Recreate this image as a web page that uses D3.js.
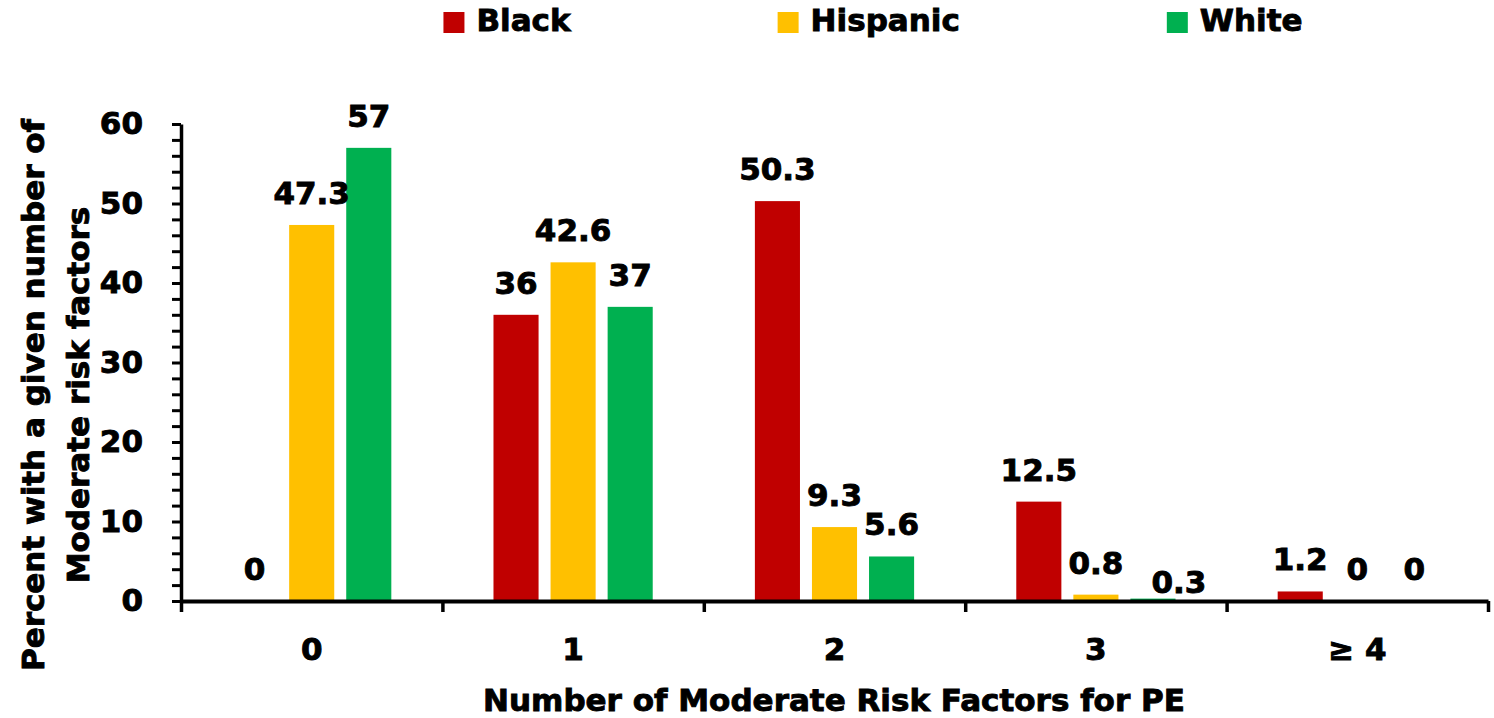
<!DOCTYPE html>
<html>
<head>
<meta charset="utf-8">
<script src="https://cdn.jsdelivr.net/npm/d3@7"></script>
<style>
  body { margin: 0; background: #fff; }
  svg { display: block; font-family: "DejaVu Sans", sans-serif; font-weight: bold; }
  svg text { stroke: #000; stroke-width: 0.9px; }
</style>
</head>
<body>
<script>
const categories = ["0", "1", "2", "3", "\u2265 4"];
const series = ["Black", "Hispanic", "White"];
const black = [0, 36, 50.3, 12.5, 1.2];
const hispanic = [47.3, 42.6, 9.3, 0.8, 0];
const white = [57, 37, 5.6, 0.3, 0];
const colors = ["#C00000", "#FFC000", "#00B050"];

const width = 1494, height = 718;
const fontSize = 31;

const values = [black, hispanic, white];
const rows = [];
categories.forEach((c, i) => {
  series.forEach((s, j) => rows.push({cat: c, series: s, value: values[j][i], idx: j}));
});

const svg = d3.select("body").append("svg")
    .attr("width", width)
    .attr("height", height)
    .style("font-size", fontSize + "px");

const x0 = d3.scaleBand()
    .domain(categories)
    .range([181, 1488]);

const x1 = d3.scaleBand()
    .domain(series)
    .range([0, x0.bandwidth()])
    .paddingInner(0.21)
    .paddingOuter(0.895);

const y = d3.scaleLinear()
    .domain([0, 60])
    .range([601, 124]);

const color = d3.scaleOrdinal().domain(series).range(colors);

// bars
svg.append("g")
  .selectAll("rect")
  .data(rows)
  .join("rect")
    .attr("x", d => x0(d.cat) + x1(d.series))
    .attr("y", d => y(d.value))
    .attr("width", x1.bandwidth())
    .attr("height", d => y(0) - y(d.value))
    .attr("fill", d => color(d.series));

// value labels (the 0.3 label was nudged aside in the original)
svg.append("g")
    .attr("text-anchor", "middle")
  .selectAll("text")
  .data(rows)
  .join("text")
    .attr("x", d => x0(d.cat) + x1(d.series) + x1.bandwidth() / 2 + (d.cat === "3" && d.series === "White" ? 26 : 0))
    .attr("y", d => y(d.value) - 21 + (d.cat === "3" && d.series === "White" ? 15 : 0))
    .text(d => d.value);

// y axis: minor ticks every 2
const yMinor = svg.append("g")
    .attr("transform", "translate(181,0)")
    .call(d3.axisLeft(y).tickValues(d3.range(0, 61, 2)).tickSize(9).tickFormat("").tickSizeOuter(0));
yMinor.select(".domain").attr("stroke-width", 3.5);
yMinor.selectAll(".tick line").attr("stroke-width", 3);

const yLabels = svg.append("g")
    .attr("transform", "translate(181,0)")
    .call(d3.axisLeft(y).tickValues(d3.range(0, 61, 10)).tickSize(0).tickPadding(38));
yLabels.select(".domain").remove();
yLabels.selectAll("text")
    .style("font-size", fontSize + "px")
    .style("font-family", "DejaVu Sans")
    .style("font-weight", "bold")
    .attr("fill", "#000");

// x axis: boundary ticks
const xEdge = d3.scaleLinear().domain([0, categories.length]).range(x0.range());
const xTicks = svg.append("g")
    .attr("transform", "translate(0,601)")
    .call(d3.axisBottom(xEdge).tickValues(d3.range(0, categories.length + 1)).tickSize(11).tickFormat("").tickSizeOuter(0));
xTicks.select(".domain").attr("stroke-width", 4);
xTicks.selectAll(".tick line").attr("stroke-width", 3.5);

const xLabels = svg.append("g")
    .attr("transform", "translate(0,601)")
    .call(d3.axisBottom(x0).tickSize(0).tickPadding(37));
xLabels.select(".domain").remove();
xLabels.selectAll("text")
    .style("font-size", fontSize + "px")
    .style("font-family", "DejaVu Sans")
    .style("font-weight", "bold")
    .attr("fill", "#000");

// axis titles
svg.append("text")
    .attr("x", 834)
    .attr("y", 711)
    .attr("text-anchor", "middle")
    .text("Number of Moderate Risk Factors for PE");

const yTitle = svg.append("text")
    .attr("transform", "translate(0,395) rotate(-90)")
    .attr("text-anchor", "middle");
yTitle.append("tspan").attr("x", 0).attr("y", 44).text("Percent with a given number of");
yTitle.append("tspan").attr("x", 0).attr("y", 89).text("Moderate risk factors");

// legend
const legend = svg.append("g");
const items = legend.selectAll("g")
  .data(series)
  .join("g");
items.append("rect")
    .attr("y", 12)
    .attr("width", 21)
    .attr("height", 21)
    .attr("fill", d => color(d));
items.append("text")
    .attr("x", 33)
    .attr("y", 31)
    .text(d => d);

let cursor = 0;
items.each(function() {
  const g = d3.select(this);
  g.attr("transform", `translate(${cursor},0)`);
  cursor += 33 + g.select("text").node().getComputedTextLength() + 207;
});
const total = cursor - 207;
legend.attr("transform", `translate(${873 - total / 2},0)`);
</script>
</body>
</html>
